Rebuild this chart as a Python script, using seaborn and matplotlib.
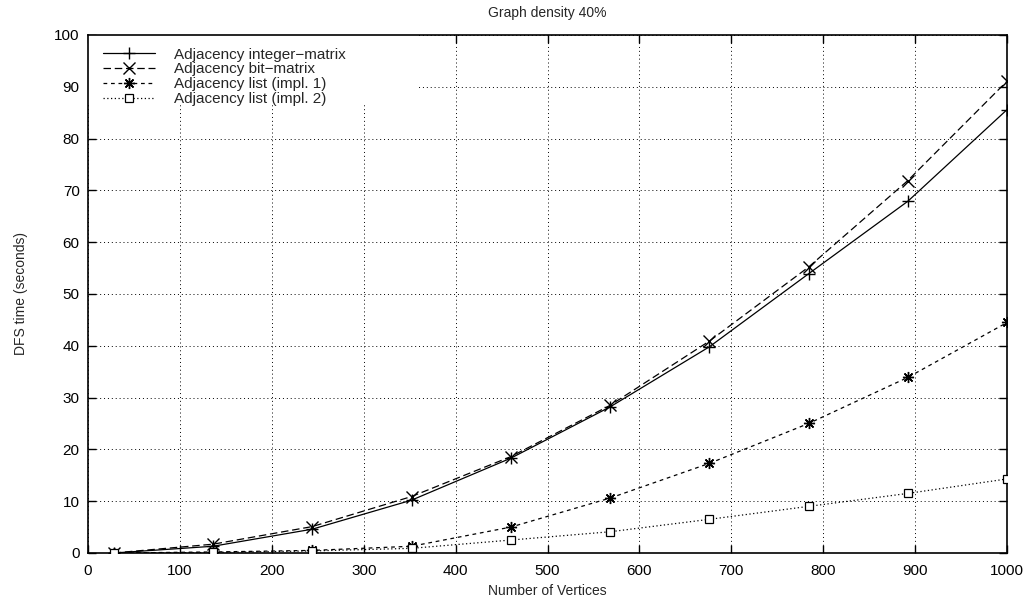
import matplotlib
matplotlib.use("Agg")
import matplotlib.pyplot as plt
from matplotlib.patches import Rectangle
import seaborn as sns
import pandas as pd

vertices = [28, 136, 244, 352, 460, 568, 676, 784, 892, 1000]
int_matrix = [0.0, 1.3, 4.6, 10.2, 18.3, 28.2, 39.8, 53.9, 67.9, 85.6]
bit_matrix = [0.0, 1.7, 5.1, 10.9, 18.6, 28.5, 40.9, 55.2, 71.9, 91.1]
list_impl1 = [0.0, 0.2, 0.5, 1.3, 5.0, 10.6, 17.3, 25.0, 33.9, 44.5]
list_impl2 = [0.0, 0.1, 0.4, 0.9, 2.5, 4.1, 6.5, 9.0, 11.5, 14.3]
series_names = ["Adjacency integer\u2212matrix", "Adjacency bit\u2212matrix",
                "Adjacency list (impl. 1)", "Adjacency list (impl. 2)"]
x_ticks = list(range(0, 1001, 100))
y_ticks = list(range(0, 101, 10))

sns.set_theme(style="ticks")
plt.rcParams['font.family'] = ['Liberation Sans', 'DejaVu Sans']
plt.rcParams['axes.unicode_minus'] = True

fig = plt.figure(figsize=(10.34, 6.02), dpi=100)
ax = fig.add_axes([0.0851, 0.0814, 0.8889, 0.8605])

styles = [
    dict(marker="+", linestyle="-", ms=9, mew=1.0),
    dict(marker="x", linestyle=(0, (6, 3)), ms=8, mew=1.0),
    dict(marker=(8, 2, 0), linestyle=(0, (3, 3)), ms=8, mew=1.0),
    dict(marker="s", linestyle=(0, (1, 2)), ms=6, mew=0.9, mfc="white"),
]
data = [int_matrix, bit_matrix, list_impl1, list_impl2]
for name, ys, st in zip(series_names, data, styles):
    df = pd.DataFrame({"x": vertices, "y": ys})
    sns.lineplot(data=df, x="x", y="y", ax=ax, color="black", lw=0.9,
                 label=name, mec="black", zorder=3, **st)

ax.set_xlim(0, 1000)
ax.set_ylim(0, 100)
ax.set_xticks(x_ticks)
ax.set_yticks(y_ticks)
ax.tick_params(direction="in", length=6, width=1, top=True, right=True,
               labelsize=11, colors="black", pad=6)
ax.tick_params(axis="x", pad=8)
ax.grid(True, color="black", linestyle=(0, (1, 3)), lw=0.7)
for s in ax.spines.values():
    s.set_color("black")
    s.set_linewidth(1.2)
ax.set_xlabel("Number of Vertices", fontsize=10, labelpad=4)
ax.set_ylabel("DFS time (seconds)", fontsize=10, labelpad=19)
ax.set_title("Graph density 40%", fontsize=10, pad=13)

# key box background (blank area hiding the grid, as in the original)
ax.add_patch(Rectangle((0, 0.865), 0.359, 0.135, transform=ax.transAxes,
                       facecolor="white", edgecolor="none", zorder=1))

leg = ax.legend(loc="upper left", frameon=False, fontsize=11, handlelength=3.4,
                handletextpad=1.2, labelspacing=0.05, borderpad=0.2,
                borderaxespad=0.8, bbox_to_anchor=(0.0, 1.005))

fig.savefig("out.png", dpi=100)
